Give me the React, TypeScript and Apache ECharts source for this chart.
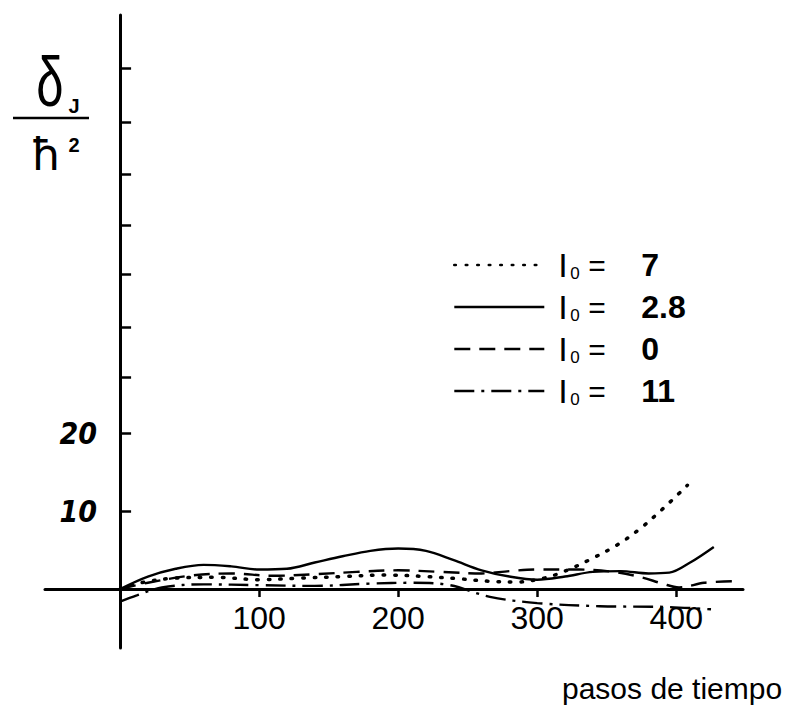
import React, { useEffect, useRef } from "react";
import * as echarts from "echarts";

// x-axis (pasos de tiempo) tick labels
const xTickValues = [100, 200, 300, 400];
// y-axis ticks and labels
const yTickValues = [10, 20, 27.1, 33.6, 40.3, 46.7, 53.2, 59.9, 66.8];
const yLabelValues = [10, 20];

// Series: I0 = 7 (dotted)
const stepsI7 = [0, 15, 40, 70, 100, 130, 160, 190, 220, 245, 265, 285, 305, 320, 337, 357, 373, 391, 408];
const valuesI7 = [0, 0.8, 1.4, 1.5, 1.2, 1.4, 1.6, 1.8, 1.6, 1.3, 1.0, 0.9, 1.4, 2.3, 3.7, 5.6, 7.6, 10.4, 13.3];

// Series: I0 = 2.8 (solid)
const stepsI28 = [0, 20, 40, 60, 80, 100, 120, 140, 160, 180, 200, 220, 240, 260, 280, 300, 320, 340, 360, 380, 395, 410, 427];
const valuesI28 = [0, 1.6, 2.6, 3.1, 2.9, 2.5, 2.6, 3.4, 4.2, 4.9, 5.2, 4.9, 3.7, 2.4, 1.6, 1.2, 1.6, 2.2, 2.3, 2.0, 2.1, 3.4, 5.4];

// Series: I0 = 0 (dashed)
const stepsI0 = [0, 20, 50, 80, 110, 140, 170, 200, 230, 260, 280, 300, 330, 355, 375, 390, 402, 420, 440];
const valuesI0 = [0, 0.8, 1.7, 2.0, 1.7, 1.9, 2.2, 2.4, 2.2, 2.0, 2.3, 2.5, 2.5, 2.2, 1.5, 0.7, 0.2, 0.8, 1.0];

// Series: I0 = 11 (dash-dot)
const stepsI11 = [0, 12, 30, 60, 100, 140, 180, 210, 237, 266, 300, 345, 393, 425];
const valuesI11 = [-1.6, -0.8, 0.2, 0.6, 0.5, 0.4, 0.7, 0.8, 0.5, -1.0, -1.8, -2.2, -2.3, -2.6];

const seriesNames = ["I₀ = 7", "I₀ = 2.8", "I₀ = 0", "I₀ = 11"];

const pair = (xs: number[], ys: number[]) => xs.map((x, i) => [x, ys[i]]);

export default function App() {
  const ref = useRef<HTMLDivElement>(null);
  useEffect(() => {
    if (!ref.current) return;
    const chart = echarts.init(ref.current, undefined, { renderer: "svg" });
    const black = "#000";
    const lineBase = { color: black, width: 2.4 };
    chart.setOption({
      animation: false,
      backgroundColor: "#fff",
      grid: { left: 45, right: 44, top: 15, bottom: 76, containLabel: false, outerBoundsMode: "none" },
      xAxis: {
        type: "value",
        min: -54,
        max: 448,
        axisLine: { show: true, onZero: true, lineStyle: { color: black, width: 3 } },
        axisTick: { show: true, customValues: xTickValues, length: 8, lineStyle: { color: black, width: 2.5 } },
        axisLabel: {
          customValues: xTickValues,
          color: black,
          fontSize: 32,
          fontFamily: "Liberation Sans",
          margin: -46,
        },
        splitLine: { show: false },
      },
      yAxis: {
        type: "value",
        min: -7.56,
        max: 73.6,
        axisLine: { show: true, onZero: true, lineStyle: { color: black, width: 3 } },
        axisTick: { show: true, inside: true, customValues: yTickValues, length: 11, lineStyle: { color: black, width: 2.5 } },
        axisLabel: {
          customValues: yLabelValues,
          color: black,
          fontSize: 30,
          fontStyle: "italic",
          fontWeight: "bold",
          fontFamily: "'DejaVu Sans Condensed', 'Liberation Sans', sans-serif",
          margin: -52,
        },
        splitLine: { show: false },
      },
      legend: {
        orient: "vertical",
        left: 448,
        top: 243,
        itemWidth: 90,
        itemHeight: 20,
        itemGap: 8,
        selectedMode: false,
        data: seriesNames,
        itemStyle: { color: "rgba(0,0,0,0)", borderWidth: 0 },
        lineStyle: { width: 2.6 },
        formatter: (name: string) => {
          const parts = name.split(" = ");
          return `{i|I}{s|0}{e|=}{v|${parts[1]}}`;
        },
        textStyle: {
          color: black,
          rich: {
            i: { fontSize: 34, fontFamily: "Liberation Sans", width: 12, padding: [0, 0, 0, 9], lineHeight: 38 },
            s: { fontSize: 17, fontFamily: "Liberation Sans", width: 18, padding: [16, 0, 0, 0], lineHeight: 38 },
            e: { fontSize: 30, fontFamily: "Liberation Sans", width: 53, lineHeight: 38 },
            v: { fontSize: 32, fontFamily: "Liberation Sans", fontWeight: "bold", lineHeight: 38 },
          },
        },
      },
      graphic: [
        { type: "text", x: 50, y: 82, scaleX: 0.7, style: { text: "δ", fontSize: 70, fontFamily: "Liberation Sans", fill: black, align: "center", verticalAlign: "middle" } },
        { type: "text", x: 74, y: 106, style: { text: "J", fontSize: 20, fontWeight: "bold", fontFamily: "Liberation Sans", fill: black, align: "center", verticalAlign: "middle" } },
        { type: "line", shape: { x1: 13, y1: 118, x2: 89, y2: 118 }, style: { stroke: black, lineWidth: 2.5 } },
        { type: "text", x: 46, y: 154, style: { text: "ħ", fontSize: 44, fontFamily: "DejaVu Sans", fill: black, align: "center", verticalAlign: "middle" } },
        { type: "text", x: 74, y: 145, style: { text: "2", fontSize: 20, fontWeight: "bold", fontFamily: "Liberation Sans", fill: black, align: "center", verticalAlign: "middle" } },
        { type: "text", x: 562, y: 688, style: { text: "pasos de tiempo", fontSize: 30, fontFamily: "Liberation Sans", fill: black, align: "left", verticalAlign: "middle" } },
      ],
      series: [
        {
          name: seriesNames[0],
          type: "line",
          smooth: 0.35,
          symbol: "none",
          data: pair(stepsI7, valuesI7),
          lineStyle: { ...lineBase, width: 3.5, type: [1.5, 10], cap: "round" },
        },
        {
          name: seriesNames[1],
          type: "line",
          smooth: 0.35,
          symbol: "none",
          data: pair(stepsI28, valuesI28),
          lineStyle: { ...lineBase, type: "solid" },
        },
        {
          name: seriesNames[2],
          type: "line",
          smooth: 0.35,
          symbol: "none",
          data: pair(stepsI0, valuesI0),
          lineStyle: { ...lineBase, type: [16, 9] },
        },
        {
          name: seriesNames[3],
          type: "line",
          smooth: 0.35,
          symbol: "none",
          data: pair(stepsI11, valuesI11),
          lineStyle: { ...lineBase, type: [20, 7, 3, 7] },
        },
      ],
    });
    return () => chart.dispose();
  }, []);
  return (
    <div
      ref={ref}
      style={{ position: "fixed", left: 0, top: 0, width: 787, height: 724, background: "#fff" }}
    />
  );
}
